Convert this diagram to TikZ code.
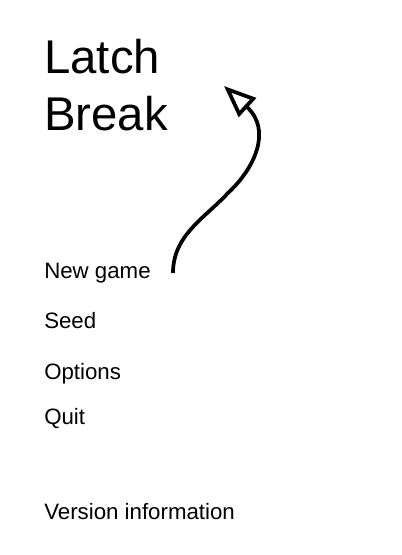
\documentclass[tikz,border=0pt]{standalone}
\usepackage{fontspec}
\setmainfont{Liberation Sans}
\usetikzlibrary{arrows.meta}

\begin{document}
\begin{tikzpicture}[x=0.75pt,y=-0.75pt,
  title/.style={anchor=base west,inner sep=0pt,font=\fontsize{35.5}{42}\selectfont},
  menu/.style={anchor=base west,inner sep=0pt,font=\fontsize{16.7}{20}\selectfont}]

\useasboundingbox (0,0) rectangle (402,555);

\node[title] (t1) at (44,74) {Latch};
\node[title] (t2) at (44,131) {Break};

\node[menu] (new) at (44,278) {New game};
\node[menu] (seed) at (44,328) {Seed};
\node[menu] (opt) at (44,379) {Options};
\node[menu] (quit) at (44,424) {Quit};
\node[menu] (ver) at (44,519) {Version information};

\coordinate (a0) at (173,273);
\coordinate (a1) at (228,193);
\coordinate (a2) at (224,86);

\draw[line width=2.8pt,-{Triangle[open,length=24pt,width=19pt]}]
  (a0) .. controls (173,235) and (205,218) .. (a1)
       .. controls (255,168) and (272,130) .. (a2);

\end{tikzpicture}
\end{document}
